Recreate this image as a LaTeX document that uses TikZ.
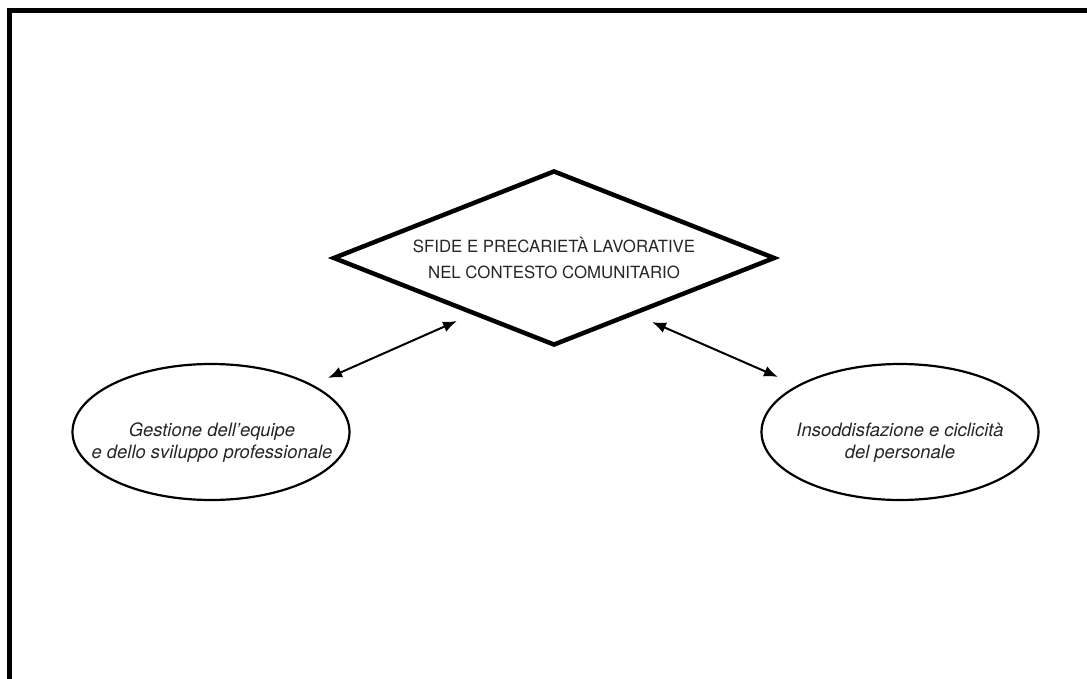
\documentclass[tikz,border=0pt]{standalone}
\usepackage{fontspec}
\setmainfont{TeX Gyre Heros}
\usetikzlibrary{shapes.geometric,arrows.meta}

\begin{document}
\begin{tikzpicture}[x=1pt,y=-1pt,
  theme/.style={shape=diamond, draw=black, line width=4.5pt, fill=white,
    aspect=2.53, minimum width=442pt, minimum height=175pt, inner sep=0pt},
  themetext/.style={align=center, inner sep=0pt, text=black!85,
    font=\fontsize{16.8}{26}\selectfont},
  topic/.style={shape=ellipse, draw=black, line width=2.2pt, fill=white,
    minimum width=277pt, minimum height=136pt, inner sep=0pt},
  topictext/.style={align=center, inner sep=0pt, text=black!85,
    font=\fontsize{18.4}{22}\selectfont\itshape},
  link/.style={{Latex[length=14pt,width=11pt]}-{Latex[length=14pt,width=11pt]}, line width=2pt}
]
\useasboundingbox (0,0) rectangle (1087,679);
\clip (0,0) rectangle (1087,679);
\fill[white] (0,0) rectangle (1087,679);

% outer frame, open towards the right and bottom edges
\draw[line width=5pt] (9.5,700) -- (9.5,10.5) -- (1100,10.5);

% central theme
\node[theme] (sfide) at (554,258) {};
\node[themetext] (sfideText) at (sfide.center) {SFIDE E PRECARIETÀ LAVORATIVE\\NEL CONTESTO COMUNITARIO};

% related topics
\node[topic] (gest) at (211,432) {};
\node[topictext] (gestText) at (212,443) {Gestione dell’equipe\\e dello sviluppo professionale};
\node[topic] (insod) at (900,432) {};
\node[topictext] (insodText) at (900,443) {Insoddisfazione e ciclicità\\del personale};

% connector end points in the gaps between the shapes
\coordinate (gestEnd) at (328,378);
\coordinate (sfideSW) at (457,321);
\coordinate (sfideSE) at (652,322);
\coordinate (insodEnd) at (778,377);

\draw[link] (gestEnd) -- (sfideSW);
\draw[link] (sfideSE) -- (insodEnd);
\end{tikzpicture}
\end{document}
